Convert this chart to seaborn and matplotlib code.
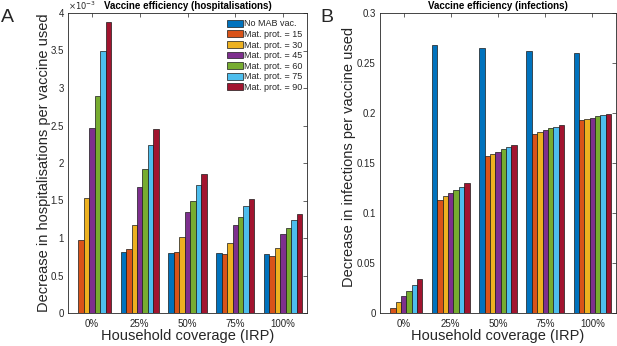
import numpy as np
import pandas as pd
import matplotlib
matplotlib.use("Agg")
import matplotlib.pyplot as plt
import seaborn as sns
from matplotlib.ticker import FuncFormatter, MultipleLocator

# ---------------- data ----------------
coverage = ["0%", "25%", "50%", "75%", "100%"]
series = ["No MAB vac.", "Mat. prot. = 15", "Mat. prot. = 30", "Mat. prot. = 45",
          "Mat. prot. = 60", "Mat. prot. = 75", "Mat. prot. = 90"]
colors = ["#0072BD", "#D95319", "#EDB120", "#7E2F8E", "#77AC30", "#4DBEEE", "#A2142F"]

# hospitalisations (values in units of 1e-3), rows = series, cols = coverage
hosp_no_mab = [0.0, 0.82, 0.80, 0.80, 0.785]
hosp_mp15 = [0.97, 0.86, 0.81, 0.785, 0.76]
hosp_mp30 = [1.54, 1.18, 1.02, 0.94, 0.873]
hosp_mp45 = [2.47, 1.68, 1.35, 1.175, 1.05]
hosp_mp60 = [2.90, 1.92, 1.50, 1.28, 1.13]
hosp_mp75 = [3.50, 2.24, 1.71, 1.43, 1.24]
hosp_mp90 = [3.88, 2.45, 1.85, 1.52, 1.32]

inf_no_mab = [0.0, 0.268, 0.265, 0.262, 0.260]
inf_mp15 = [0.005, 0.113, 0.157, 0.179, 0.193]
inf_mp30 = [0.011, 0.117, 0.159, 0.181, 0.194]
inf_mp45 = [0.017, 0.120, 0.161, 0.183, 0.195]
inf_mp60 = [0.022, 0.123, 0.164, 0.185, 0.197]
inf_mp75 = [0.028, 0.126, 0.166, 0.186, 0.198]
inf_mp90 = [0.034, 0.130, 0.168, 0.188, 0.199]

hosp_scale = 1e-3

hosp = [hosp_no_mab, hosp_mp15, hosp_mp30, hosp_mp45, hosp_mp60, hosp_mp75, hosp_mp90]
inf = [inf_no_mab, inf_mp15, inf_mp30, inf_mp45, inf_mp60, inf_mp75, inf_mp90]


def long_df(rows, scale=1.0):
    recs = []
    for s, vals in zip(series, rows):
        for c, v in zip(coverage, vals):
            recs.append({"coverage": c, "series": s, "value": v * scale})
    return pd.DataFrame(recs)


df_h = long_df(hosp, hosp_scale)
df_i = long_df(inf)

# ---------------- style ----------------
sns.set_style("white")
plt.rcParams["font.family"] = ["Liberation Sans", "DejaVu Sans"]
axcol = "#262626"

fig = plt.figure(figsize=(6.17, 3.46), dpi=100)
axA = fig.add_axes([68 / 617, 33 / 346, 239 / 617, 300 / 346])
axB = fig.add_axes([380 / 617, 33 / 346, 236 / 617, 300 / 346])

for ax, df in ((axA, df_h), (axB, df_i)):
    sns.barplot(data=df, x="coverage", y="value", hue="series", order=coverage,
                hue_order=series, palette=colors, saturation=1, width=0.8,
                errorbar=None, edgecolor="#1a1a1a", linewidth=0.5, ax=ax)
    ax.set_xlim(-0.5, 4.5)
    for sp in ax.spines.values():
        sp.set_visible(True)
        sp.set_color(axcol)
        sp.set_linewidth(0.6)
    ax.tick_params(direction="in", top=True, right=True, length=3, width=0.5,
                   colors=axcol, labelsize=7, pad=3)
    ax.tick_params(axis="x", pad=4)
    ax.yaxis.set_major_formatter(FuncFormatter(lambda v, p: f"{v:g}"))
    ax.set_xlabel("Household coverage (IRP)", fontsize=10.5, color=axcol)
    ax.xaxis.set_label_coords(0.5, -0.052)
    ax.xaxis.label.set_va("top")

# Panel A
axA.set_ylim(0, 4e-3)
axA.yaxis.set_major_locator(MultipleLocator(0.5e-3))
axA.yaxis.set_major_formatter(FuncFormatter(lambda v, p: f"{v / hosp_scale:g}"))
axA.set_ylabel("Decrease in hospitalisations per vaccine used", fontsize=10.5, color=axcol)
axA.yaxis.set_label_coords(-0.072, 0.5)
axA.set_title("Vaccine efficiency (hospitalisations)", fontsize=7, fontweight="bold",
              pad=3, color="black")
axA.text(0.0, 1.003, r"$\times10^{-3}$", transform=axA.transAxes, ha="left", va="bottom",
         fontsize=6, color=axcol)
handles, labels = axA.get_legend_handles_labels()
axA.legend(handles, labels, loc="upper right", bbox_to_anchor=(0.99, 0.985),
           frameon=False, fontsize=6.5, handlelength=1.8, handleheight=0.8,
           handletextpad=0.15, labelspacing=0.18, borderaxespad=0, borderpad=0.2)

# Panel B
axB.set_ylim(0, 0.3)
axB.yaxis.set_major_locator(MultipleLocator(0.05))
axB.set_ylabel("Decrease in infections per vaccine used", fontsize=10.5, color=axcol)
axB.yaxis.set_label_coords(-0.10, 0.52)
axB.set_title("Vaccine efficiency (infections)", fontsize=7, fontweight="bold",
              pad=3, color="black")
if axB.get_legend() is not None:
    axB.get_legend().remove()

fig.text(1 / 617, 1 - 22 / 346, "A", fontsize=14, ha="left", va="baseline")
fig.text(320 / 617, 1 - 22 / 346, "B", fontsize=14, ha="left", va="baseline")

fig.savefig("out.png", dpi=100)
